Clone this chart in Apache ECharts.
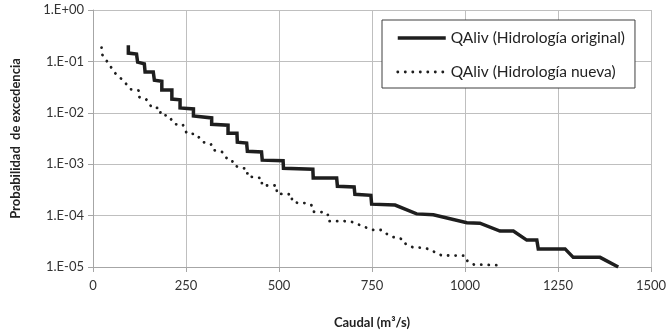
<!DOCTYPE html>
<html>
<head>
<meta charset="utf-8">
<script src="https://cdn.jsdelivr.net/npm/echarts@6/dist/echarts.min.js"></script>
<style>
html,body{margin:0;padding:0;background:#fff;}
#c{width:671px;height:334px;}
</style>
</head>
<body>
<div id="c"></div>
<script>
// Series: QAliv (Hidrología original) — caudal (m3/s) and exceedance probability
var origQ = [95, 95, 117, 120, 138, 140, 162, 165, 185, 185, 212, 212, 234, 234, 270, 270, 319, 319, 363, 363, 387, 388, 413, 415, 453, 455, 511, 512, 591, 592, 655, 657, 702, 704, 747, 749, 812, 870, 915, 1005, 1040, 1094, 1130, 1166, 1193, 1197, 1269, 1291, 1363, 1412];
var origP = [0.206, 0.145, 0.139, 0.0966, 0.0896, 0.0623, 0.0623, 0.0431, 0.0412, 0.0278, 0.0278, 0.0185, 0.0179, 0.01245, 0.0119, 0.00865, 0.00794, 0.00599, 0.00573, 0.00398, 0.00398, 0.00268, 0.00257, 0.00178, 0.00173, 0.0012, 0.00117, 0.00083, 0.000796, 0.000537, 0.000537, 0.000373, 0.000361, 0.000259, 0.000248, 0.000167, 0.00016, 0.000108, 0.000104, 0.0000726, 0.0000713, 0.00005, 0.00005, 0.0000334, 0.0000334, 0.0000225, 0.0000225, 0.0000154, 0.0000154, 0.00001];
// Series: QAliv (Hidrología nueva)
var newQ = [23, 25, 41, 59, 82, 101, 124, 124, 142, 159, 180, 182, 202, 220, 241, 252, 277, 296, 317, 323, 347, 358, 373, 379, 415, 415, 436, 454, 454, 494, 494, 534, 535, 552, 573, 587, 592, 614, 631, 633, 675, 695, 715, 735, 754, 776, 792, 812, 833, 841, 859, 879, 901, 919, 937, 1000, 1007, 1024, 1089];
var newP = [0.186, 0.135, 0.0924, 0.0596, 0.042, 0.0287, 0.027, 0.0202, 0.0187, 0.01245, 0.01245, 0.00904, 0.00889, 0.00598, 0.00598, 0.00398, 0.00386, 0.00268, 0.00246, 0.00189, 0.00173, 0.00133, 0.00123, 0.000935, 0.000796, 0.000578, 0.000561, 0.00053, 0.000385, 0.000385, 0.000266, 0.000259, 0.000189, 0.000175, 0.000175, 0.00016, 0.000119, 0.000117, 0.000108, 0.0000779, 0.0000779, 0.0000758, 0.0000665, 0.0000583, 0.0000525, 0.0000525, 0.0000429, 0.000037, 0.0000349, 0.0000277, 0.0000243, 0.0000238, 0.0000225, 0.0000195, 0.0000168, 0.0000166, 0.0000129, 0.0000112, 0.0000108];
var seriesNames = ['QAliv (Hidrología original)', 'QAliv (Hidrología nueva)'];
var xTicks = [0, 250, 500, 750, 1000, 1250, 1500];
var yTicks = [1e-5, 1e-4, 1e-3, 1e-2, 1e-1, 1];

function pairs(xs, ys){ return xs.map(function(x,i){ return [x, ys[i]]; }); }
function yFmt(v){
  var e = Math.round(Math.log10(v));
  var s = Math.abs(e) < 10 ? '0' + Math.abs(e) : '' + Math.abs(e);
  return '1.E' + (e >= 0 ? '+' : '-') + s;
}
var FONT = 'Lato, "Open Sans", sans-serif';
var solidStyle = {color: '#1e1e1e', width: 3.5, join: 'miter'};
var dotStyle = {color: '#1e1e1e', width: 2.8, type: [0.1, 7.4], cap: 'round'};
var chart = echarts.init(document.getElementById('c'), null, {renderer:'canvas'});
chart.setOption({
  animation: false,
  backgroundColor: '#fff',
  textStyle: {fontFamily: FONT},
  grid: {left: 93, right: 20, top: 10, bottom: 62},
  legend: {
    orient: 'vertical',
    left: 382, top: 20,
    padding: [10, 10, 8, 14],
    itemWidth: 48, itemHeight: 16, itemGap: 18,
    backgroundColor: '#fff',
    borderColor: '#3f3f3f', borderWidth: 1,
    itemStyle: {opacity: 0},
    textStyle: {fontFamily: FONT, fontSize: 15.5, color: '#222'},
    data: [
      {name: seriesNames[0], lineStyle: {width: 3.5, color: '#1e1e1e', type: 'solid'}},
      {name: seriesNames[1], lineStyle: {width: 2.8, color: '#1e1e1e', type: [0.1, 7.4], cap: 'round'}}
    ]
  },
  xAxis: {
    type: 'value', min: xTicks[0], max: xTicks[xTicks.length-1], interval: 250,
    name: 'Caudal (m³/s)', nameLocation: 'middle', nameGap: 49,
    nameTextStyle: {fontFamily: FONT, fontWeight: 'bold', fontSize: 13, color: '#222'},
    axisLine: {show: true, lineStyle: {color: '#a6a6a6', width: 1}},
    axisTick: {show: true, length: 5, lineStyle: {color: '#a6a6a6'}},
    axisLabel: {fontFamily: FONT, fontSize: 13, color: '#333', margin: 12, formatter: function(v){ return String(v); }},
    splitLine: {show: true, lineStyle: {color: '#bfbfbf', width: 1}}
  },
  yAxis: {
    type: 'log', logBase: 10, min: yTicks[0], max: yTicks[yTicks.length-1],
    name: 'Probabilidad  de excedencia', nameLocation: 'middle', nameGap: 71,
    nameTextStyle: {fontFamily: FONT, fontWeight: 'bold', fontSize: 13, color: '#222'},
    axisLine: {show: true, lineStyle: {color: '#a6a6a6', width: 1}},
    axisTick: {show: true, length: 5, lineStyle: {color: '#a6a6a6'}},
    axisLabel: {fontFamily: FONT, fontSize: 13, color: '#333', margin: 9, formatter: yFmt},
    splitLine: {show: true, lineStyle: {color: '#bfbfbf', width: 1}}
  },
  series: [
    {
      name: seriesNames[0], type: 'line', data: pairs(origQ, origP),
      symbol: 'none', showSymbol: false,
      lineStyle: solidStyle,
      itemStyle: {color: '#1e1e1e'}
    },
    {
      name: seriesNames[1], type: 'line', data: pairs(newQ, newP),
      symbol: 'none', showSymbol: false,
      lineStyle: dotStyle,
      itemStyle: {color: '#1e1e1e'}
    }
  ]
});
</script>
</body>
</html>
